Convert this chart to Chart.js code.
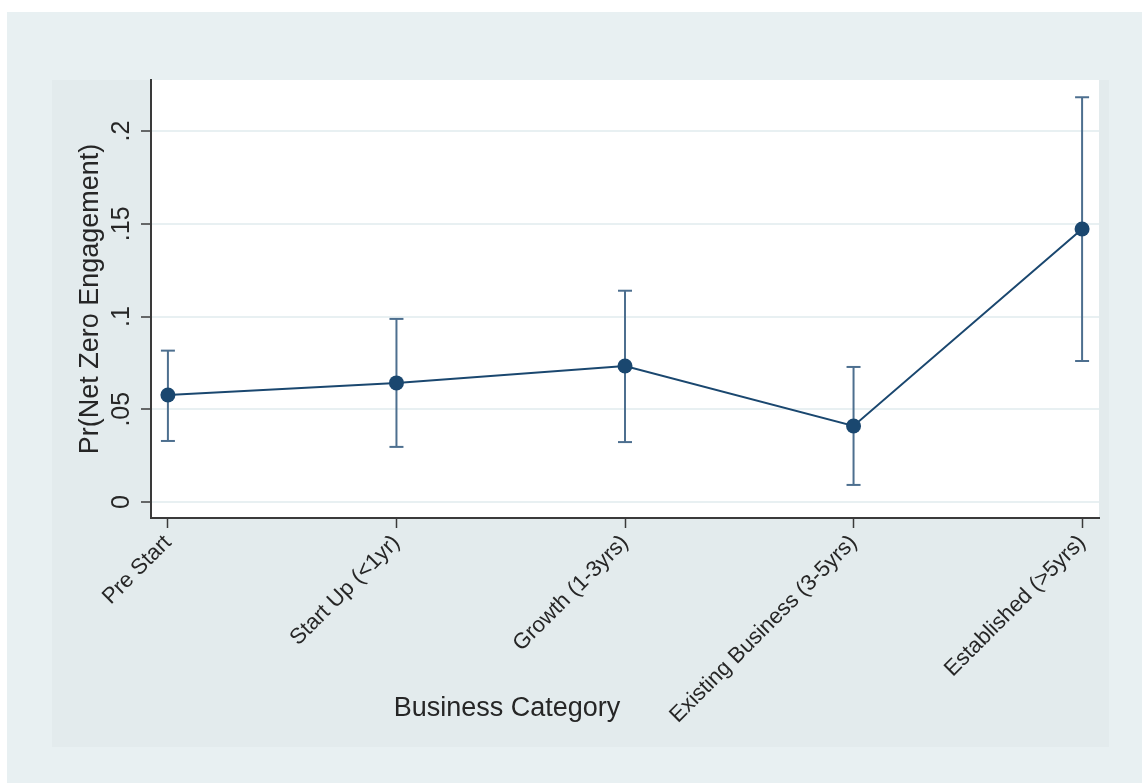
<!DOCTYPE html>
<html>
<head>
<meta charset="utf-8">
<title>Pr(Net Zero Engagement) by Business Category</title>
<script src="https://cdn.jsdelivr.net/npm/chart.js@4.4.0/dist/chart.umd.min.js"></script>
<style>
  body { margin: 0; background: #ffffff; }
  #grafico { display: block; }
</style>
</head>
<body>
<canvas id="grafico" width="1142" height="783"></canvas>
<script>
// Data
const categorias = ["Pre Start", "Start Up (<1yr)", "Growth (1-3yrs)", "Existing Business (3-5yrs)", "Established (>5yrs)"];
const estimados = [0.0577, 0.0642, 0.0733, 0.0410, 0.1472]; // point estimates
const limiteInf = [0.0329, 0.0297, 0.0323, 0.0092, 0.0760]; // lower CI
const limiteSup = [0.0816, 0.0987, 0.1139, 0.0728, 0.2182]; // upper CI
const yTicks = [0, 0.05, 0.1, 0.15, 0.2];
const yTickLabels = ["0", ".05", ".1", ".15", ".2"];
const xTitulo = "Business Category";
const yTitulo = "Pr(Net Zero Engagement)";

const azul = "#1a476f";
const azulCI = "#4d6f8f";
const textoColor = "#262626";
const fuente = "'Liberation Sans', Arial, Helvetica, sans-serif";

// Background panels (Stata-like graph region)
const fondo = {
  id: "fondo",
  beforeDraw(chart) {
    const { ctx, chartArea: ca, width, height } = chart;
    ctx.save();
    ctx.fillStyle = "#ffffff";
    ctx.fillRect(0, 0, width, height);
    ctx.fillStyle = "#e8f0f2";
    ctx.fillRect(7, 12, width - 7, height - 12);
    ctx.fillStyle = "#e3ebed";
    ctx.fillRect(ca.left - 99, ca.top, ca.right - ca.left + 109, ca.bottom - ca.top + 229);
    ctx.fillStyle = "#ffffff";
    ctx.fillRect(ca.left, ca.top, ca.right - ca.left, ca.bottom - ca.top);
    ctx.restore();
  },
  afterDraw(chart) {
    // x axis title sits left of centre in the original
    const { ctx, chartArea: ca } = chart;
    ctx.save();
    ctx.font = "27px " + fuente;
    ctx.fillStyle = textoColor;
    ctx.textAlign = "center";
    ctx.textBaseline = "middle";
    ctx.fillText(xTitulo, ca.left + 356, ca.bottom + 191);
    ctx.restore();
  },
};

// Error bars: one small line dataset per category
const barrasError = categorias.map((c, i) => ({
  type: "line",
  label: "CI " + c,
  data: [{ x: i, y: limiteInf[i] }, { x: i, y: limiteSup[i] }],
  borderColor: azulCI,
  borderWidth: 2,
  pointStyle: "line",
  pointRadius: 7,
  pointBorderWidth: 2,
  pointBorderColor: azulCI,
  order: 2,
}));

const ctx = document.getElementById("grafico");

new Chart(ctx, {
  type: "line",
  data: {
    datasets: [
      {
        label: "Pr(Net Zero Engagement)",
        data: estimados.map((v, i) => ({ x: i, y: v })),
        borderColor: azul,
        borderWidth: 2,
        pointRadius: 7.5,
        pointBackgroundColor: azul,
        pointBorderColor: azul,
        pointBorderWidth: 0,
        tension: 0,
        order: 1,
      },
      ...barrasError,
    ],
  },
  options: {
    responsive: false,
    animation: false,
    layout: { padding: { top: 80, right: 43, left: 0, bottom: 0 } },
    plugins: {
      legend: { display: false },
      tooltip: { enabled: false },
    },
    scales: {
      x: {
        type: "linear",
        min: -0.074,
        max: 4.074,
        afterBuildTicks: (scale) => {
          scale.ticks = categorias.map((c, i) => ({ value: i }));
        },
        afterFit: (scale) => {
          scale.height = 265;
        },
        ticks: {
          callback: (v) => categorias[v],
          minRotation: 45,
          maxRotation: 45,
          autoSkip: false,
          padding: 2,
          color: textoColor,
          font: { family: fuente, size: 22 },
        },
        grid: {
          drawOnChartArea: false,
          drawTicks: true,
          tickLength: 10,
          tickColor: "#3a3a3a",
          tickWidth: 1.5,
        },
        border: { color: "#3a3a3a", width: 2 },
      },
      y: {
        type: "linear",
        min: -0.00863,
        max: 0.2275,
        afterBuildTicks: (scale) => {
          scale.ticks = yTicks.map((v) => ({ value: v }));
        },
        afterFit: (scale) => {
          scale.width = 151;
        },
        ticks: {
          callback: (v) => yTickLabels[yTicks.indexOf(v)],
          minRotation: 90,
          maxRotation: 90,
          crossAlign: "center",
          padding: 2,
          color: textoColor,
          font: { family: fuente, size: 25 },
        },
        grid: {
          color: "#e8f0f2",
          lineWidth: 2,
          tickLength: 10,
          tickColor: "#3a3a3a",
          tickWidth: 1.5,
        },
        border: { color: "#3a3a3a", width: 2 },
        title: {
          display: true,
          text: yTitulo,
          color: textoColor,
          font: { family: fuente, size: 27 },
          padding: { top: 74, bottom: 0 },
        },
      },
    },
  },
  plugins: [fondo],
});
</script>
</body>
</html>
